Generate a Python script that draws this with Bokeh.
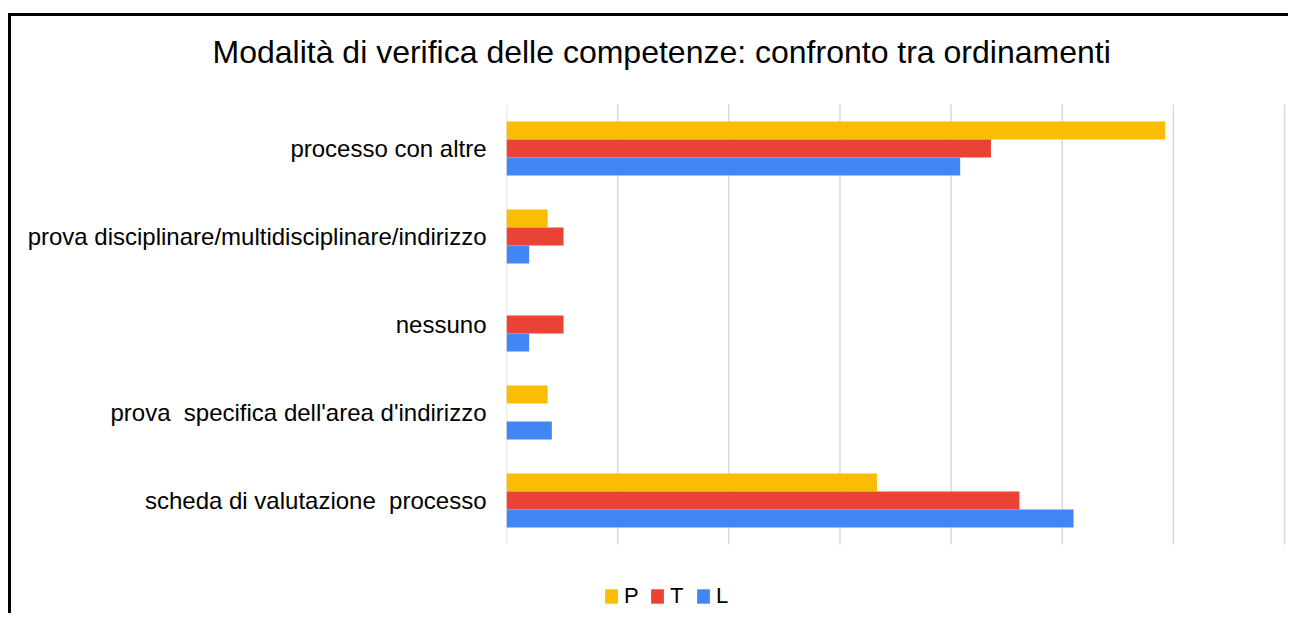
from bokeh.plotting import figure
from bokeh.models import ColumnDataSource, Range1d, Legend, LegendItem, FixedTicker
from bokeh.embed import file_html
from bokeh.resources import INLINE

# categories listed bottom -> top
categories = [
    "scheda di valutazione\u00a0 processo",
    "prova\u00a0 specifica dell'area d'indirizzo",
    "nessuno",
    "prova disciplinare/multidisciplinare/indirizzo",
    "processo con altre",
]
P_values = [33.33, 3.70, 0.0, 3.70, 59.26]
T_values = [46.15, 0.0, 5.13, 5.13, 43.59]
L_values = [51.02, 4.08, 2.04, 2.04, 40.82]
series_names = ["P", "T", "L"]
series_colors = ["#FBBC04", "#EA4335", "#4285F4"]
grid_ticks = [0, 10, 20, 30, 40, 50, 60, 70]
title_text = "Modalità di verifica delle competenze: confronto tra ordinamenti"

FONT = "Liberation Sans"
n_cat = len(categories)
cat_pos = list(range(n_cat))

bar_h = 0.2045
offsets = [bar_h, 0.0, -bar_h]

p = figure(
    y_range=Range1d(-1.318, 4.841),
    x_range=Range1d(0, 70.18),
    width=1280, height=600,
    output_backend="svg", toolbar_location=None,
    min_border_left=495, min_border_right=5,
    min_border_top=58, min_border_bottom=0,
)
p.styles = {"border-left": "3px solid black", "border-top": "3px solid black",
            "margin-top": "13px", "margin-left": "8px"}
p.outline_line_color = None
p.background_fill_color = "white"
p.border_fill_color = "white"
p.xgrid.visible = False
p.ygrid.visible = False
p.xaxis.visible = False

# vertical grid lines spanning the category band
p.segment(x0=grid_ticks, x1=grid_ticks,
          y0=[-0.5] * len(grid_ticks), y1=[n_cat - 0.5] * len(grid_ticks),
          line_color="#d9d9d9", line_width=1.5)

renderers = []
for name, vals, col, off in zip(series_names, [P_values, T_values, L_values], series_colors, offsets):
    src = ColumnDataSource(dict(y=[c + off for c in cat_pos], right=vals))
    r = p.hbar(y="y", right="right", left=0, height=bar_h,
               fill_color=col, line_color=None, source=src)
    renderers.append(r)

p.yaxis.ticker = FixedTicker(ticks=cat_pos)
p.yaxis.major_label_overrides = {i: c for i, c in zip(cat_pos, categories)}
p.yaxis.axis_line_color = None
p.yaxis.major_tick_line_color = None
p.yaxis.minor_tick_line_color = None
p.yaxis.major_tick_out = 0
p.yaxis.major_tick_in = 0
p.yaxis.minor_tick_out = 0
p.yaxis.major_label_standoff = 20
p.yaxis.major_label_text_font = FONT
p.yaxis.major_label_text_font_size = "24px"
p.yaxis.major_label_text_color = "#000000"

p.title.text = title_text
p.title.align = "left"
p.title.offset = -294
p.title.standoff = 10
p.title.text_font = FONT
p.title.text_font_size = "32px"
p.title.text_font_style = "normal"
p.title.text_color = "#000000"

legend = Legend(
    items=[LegendItem(label=n, renderers=[r]) for n, r in zip(series_names, renderers)],
    orientation="horizontal", location=(97, 7),
    glyph_width=16, glyph_height=18, label_standoff=5, spacing=5, label_width=20,
    padding=4, margin=0, border_line_color=None, background_fill_alpha=0,
    label_text_font=FONT, label_text_font_size="22px", label_text_color="#000000",
)
p.add_layout(legend, "center")

open("out.html", "w").write(file_html(p, INLINE))
